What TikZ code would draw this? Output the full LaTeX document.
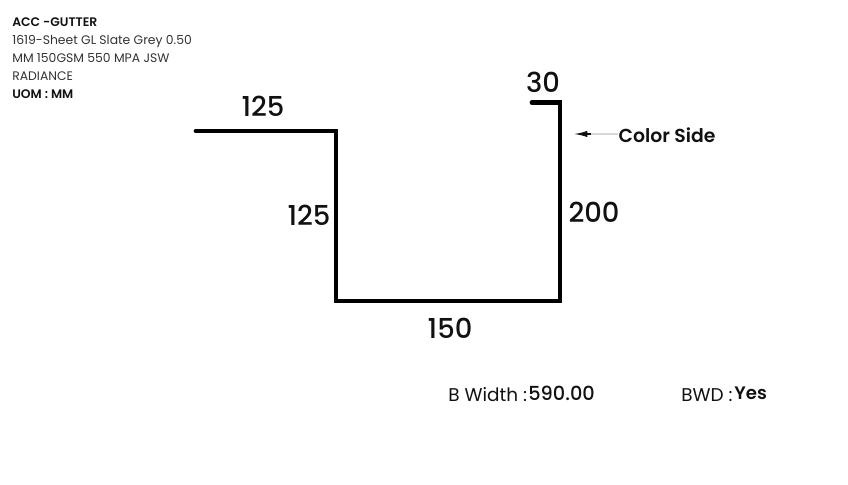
\documentclass[tikz,border=0pt]{standalone}
\usepackage{fontspec}
\setmainfont{Poppins}
\newfontfamily\medfont{Poppins Medium}
\newfontfamily\semifont{Poppins SemiBold}
\usetikzlibrary{arrows.meta,positioning}
\definecolor{ink}{HTML}{111111}
\definecolor{body}{HTML}{333333}
\definecolor{leader}{HTML}{D8D8D8}
\tikzset{
  dimlabel/.style={font=\medfont\fontsize{15.6}{17}\selectfont,text=ink,inner sep=0pt},
  footlabel/.style={font=\fontsize{10.5}{12}\selectfont,text=ink,inner sep=0pt,anchor=west},
  footvalue/.style={font=\medfont\fontsize{11}{12}\selectfont,text=ink,inner sep=0pt,anchor=west},
}
\begin{document}
\begin{tikzpicture}
  \useasboundingbox (0,0) rectangle (16.96,9.70);

  % Header text
  \node[font=\fontsize{7.05}{10.2}\selectfont,align=left,anchor=north west,inner sep=0pt,text=body] (header) at (0.24,9.35)
    {{\semifont\color{ink}ACC -GUTTER}\\1619-Sheet GL Slate Grey 0.50\\MM 150GSM 550 MPA JSW\\RADIANCE\\{\semifont\color{ink}UOM : MM}};

  % Gutter profile
  \coordinate (flangeL) at (3.92,7.08);
  \coordinate (bendA) at (6.72,7.08);
  \coordinate (bendB) at (6.72,3.68);
  \coordinate (bendC) at (11.20,3.68);
  \coordinate (bendD) at (11.20,7.65);
  \coordinate (lipR) at (10.64,7.65);
  \draw[black,line width=0.095cm,line cap=round,line join=miter] (flangeL) -- (bendA) -- (bendB) -- (bendC) -- (bendD) -- (lipR);

  % Dimensions
  \node[dimlabel] (dimTop) at (5.26,7.58) {125};
  \node[dimlabel] (dimLeft) at (6.18,5.40) {125};
  \node[dimlabel] (dimBase) at (9.00,3.14) {150};
  \node[dimlabel] (dimRight) at (11.88,5.46) {200};
  \node[dimlabel] (dimLip) at (10.86,8.06) {30};

  % Color side
  \node[font=\semifont\fontsize{10.7}{12}\selectfont,text=ink,inner sep=0pt] (colorSide) at (13.34,7.00) {Color Side};
  \coordinate (colorTip) at (11.50,7.02);
  \draw[leader,line width=0.6pt] (colorSide.west |- colorTip) -- (colorTip);
  \draw[-{Latex[length=7pt,width=3.6pt]},ink,line width=0.6pt] ([xshift=9pt]colorTip) -- (colorTip);

  % Footer
  \node[footlabel] (widthKey) at (8.96,1.80) {B Width :};
  \node[footvalue] (widthVal) at (10.56,1.84) {590.00};
  \node[footlabel] (bwdKey) at (13.62,1.80) {BWD :};
  \node[footvalue,font=\semifont\fontsize{10.3}{12}\selectfont] (bwdVal) at (14.68,1.84) {Yes};
\end{tikzpicture}
\end{document}
